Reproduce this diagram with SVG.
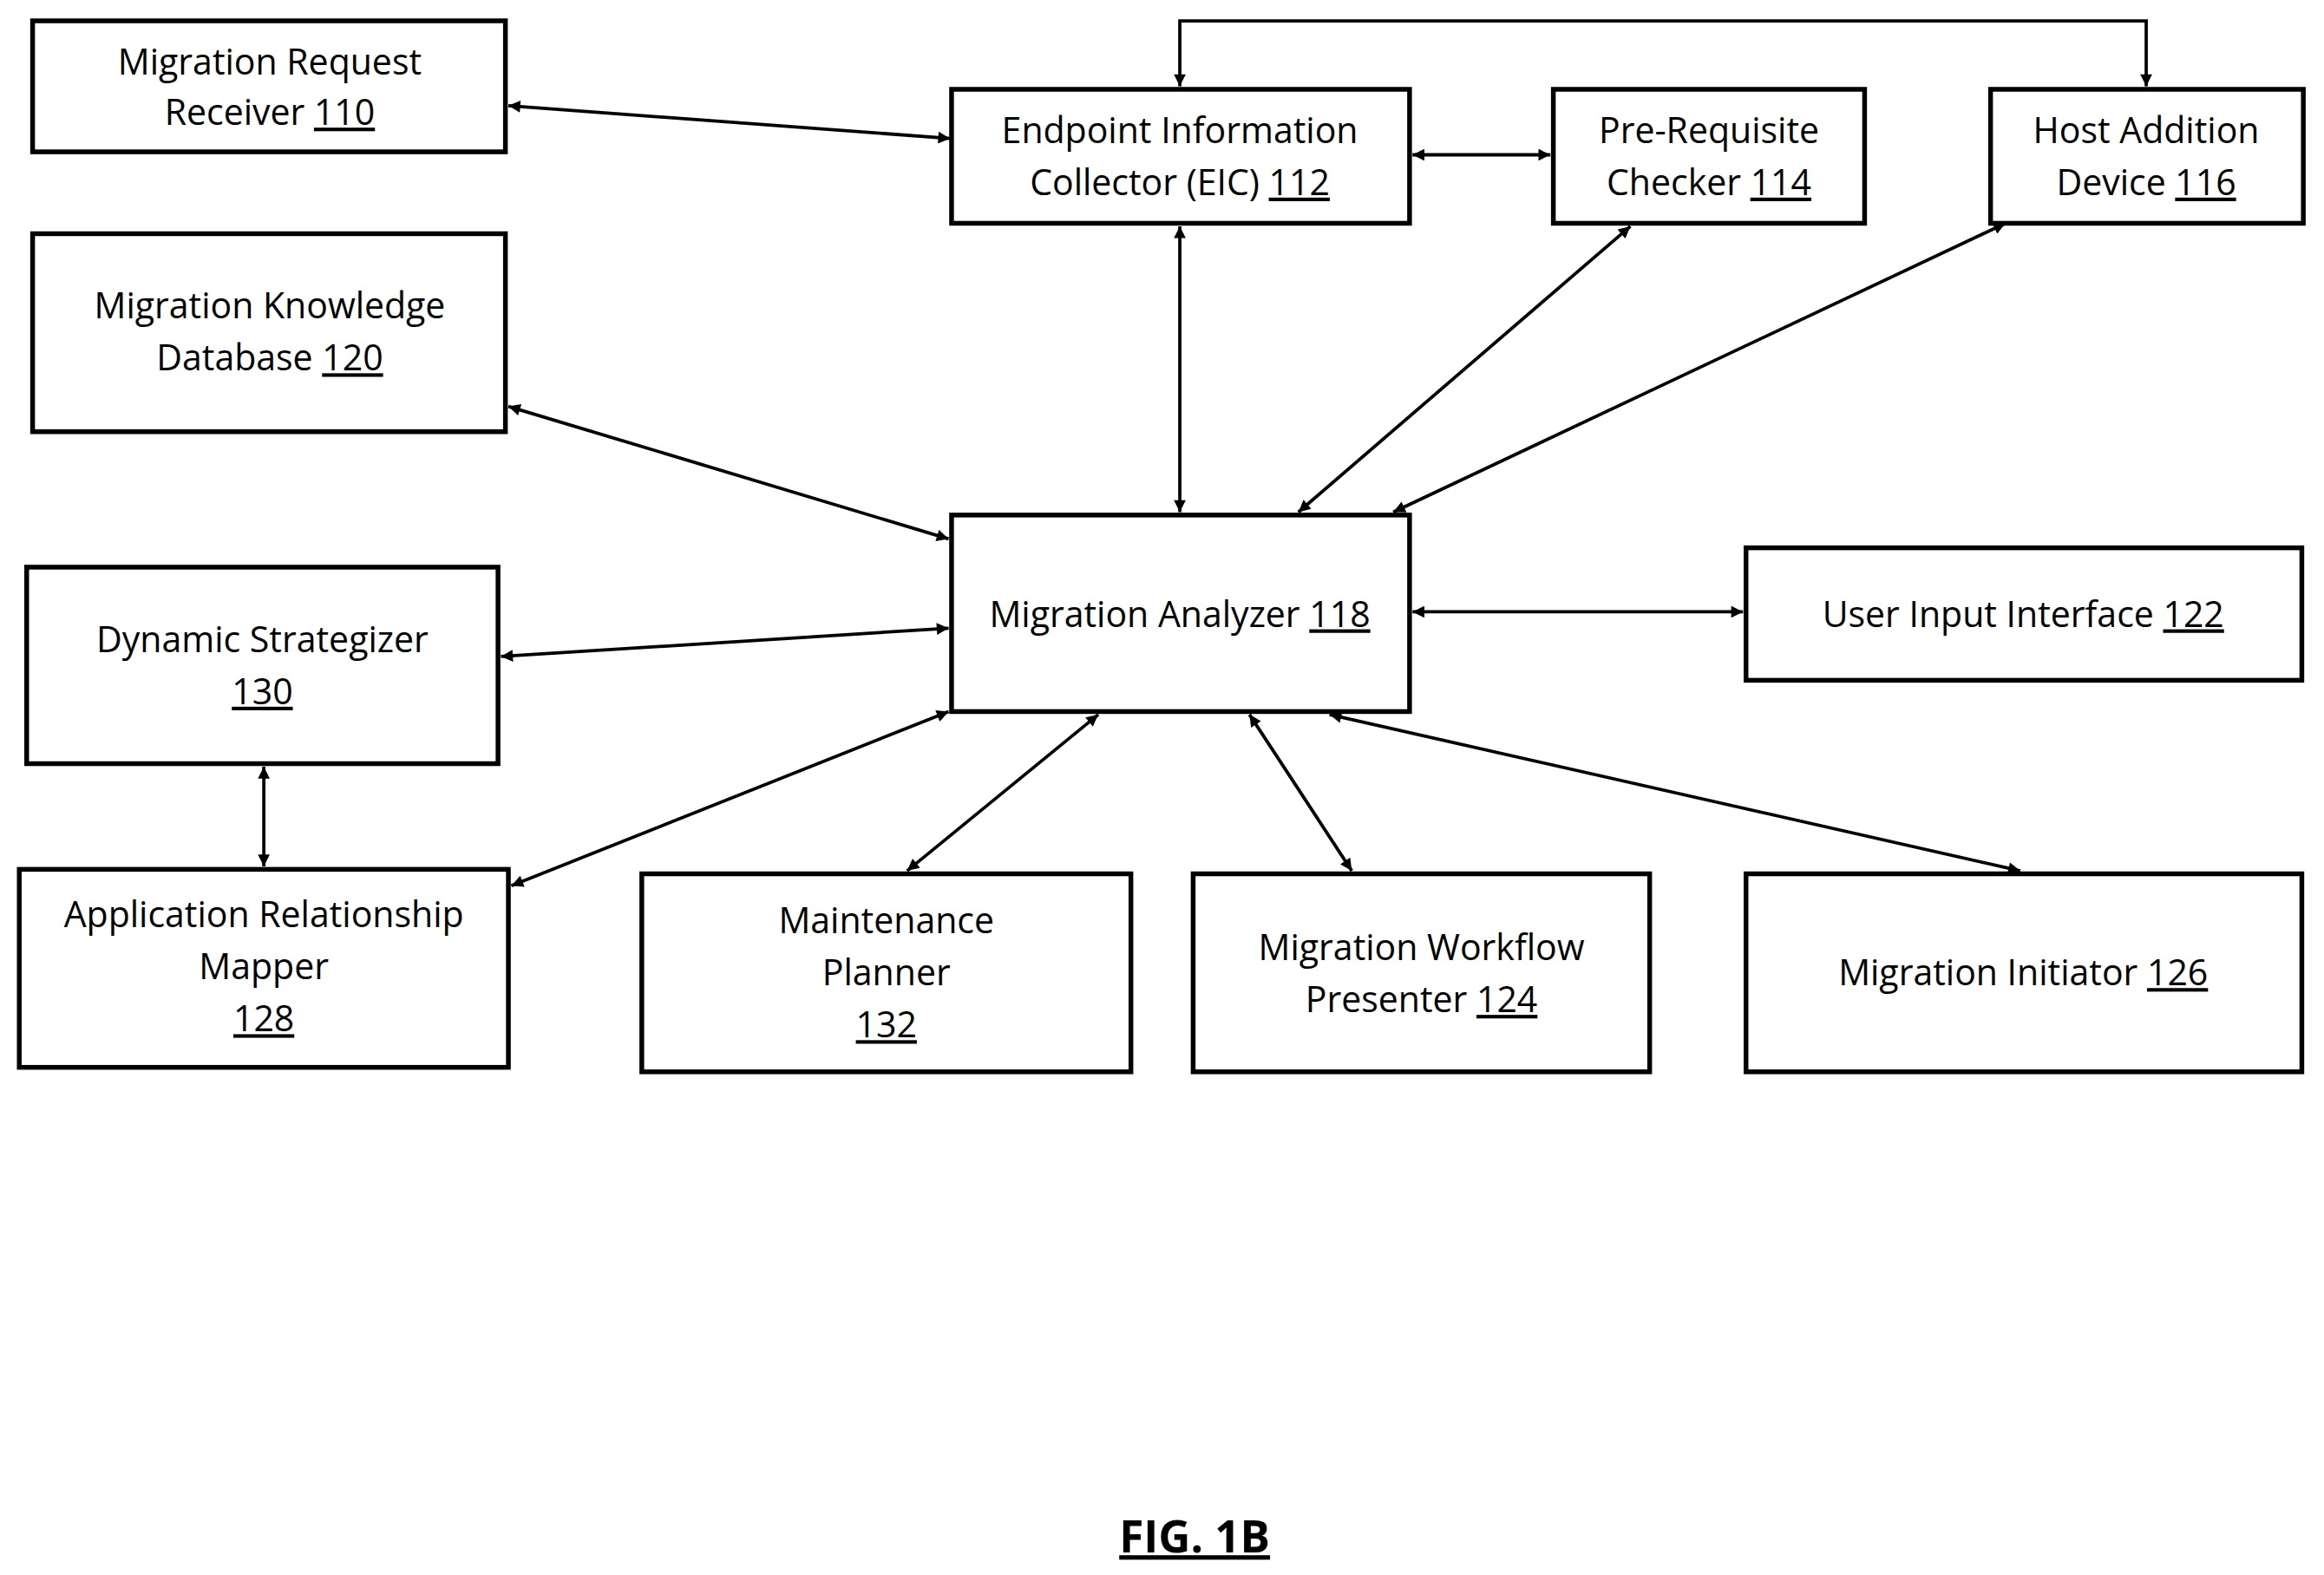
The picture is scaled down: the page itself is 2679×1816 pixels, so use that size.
<svg xmlns="http://www.w3.org/2000/svg" width="2679" height="1816" viewBox="0 0 2679 1816">
<style>
.b{fill:#fff;stroke:#000;stroke-width:3.2}
.t{font-family:"Open Sans","Liberation Sans",sans-serif;font-size:24px;fill:#000;text-anchor:middle}
.u{text-decoration:underline}
.c{fill:none;stroke:#000;stroke-width:2.2;marker-start:url(#a);marker-end:url(#a)}
</style>
<defs><marker id="a" viewBox="0 0 10 10" refX="10" refY="5" markerWidth="9" markerHeight="8" markerUnits="userSpaceOnUse" orient="auto-start-reverse"><path d="M0,0L10,5L0,10z" fill="#000"/></marker></defs>
<rect width="2679" height="1816" fill="#fff"/>
<g transform="scale(1.7086,1.7164)">
<defs><marker id="a" viewBox="0 0 10 10" refX="10" refY="5" markerWidth="12" markerHeight="10" markerUnits="userSpaceOnUse" orient="auto-start-reverse"><path d="M0,0L10,5L0,10z" fill="#000"/></marker></defs>
<g id="connectors">
<path class="c" d="M343,71L641,93"/>
<path class="c" d="M796,58V14H1448V58"/>
<path class="c" d="M953,104H1046"/>
<path class="c" d="M796,152V344"/>
<path class="c" d="M1100,152L876,344"/>
<path class="c" d="M1353,150L940,344"/>
<path class="c" d="M343,273L640,362"/>
<path class="c" d="M953,411H1176"/>
<path class="c" d="M338,441L640,422"/>
<path class="c" d="M178,515V582"/>
<path class="c" d="M345,595L640,478"/>
<path class="c" d="M612,585L741,480"/>
<path class="c" d="M912,585L843,480"/>
<path class="c" d="M1363,585L897,480"/>
</g>
<g id="n110"><rect class="b" x="22" y="14" width="319" height="88"/><text class="t" x="182" y="50">Migration Request</text><text class="t" x="182" y="84">Receiver <tspan class="u">110</tspan></text></g>
<g id="n112"><rect class="b" x="642" y="60" width="309" height="90"/><text class="t" x="796" y="96">Endpoint Information</text><text class="t" x="796" y="131">Collector (EIC) <tspan class="u">112</tspan></text></g>
<g id="n114"><rect class="b" x="1048" y="60" width="210" height="90"/><text class="t" x="1153" y="96">Pre-Requisite</text><text class="t" x="1153" y="131">Checker <tspan class="u">114</tspan></text></g>
<g id="n116"><rect class="b" x="1343" y="60" width="211" height="90"/><text class="t" x="1448" y="96">Host Addition</text><text class="t" x="1448" y="131">Device <tspan class="u">116</tspan></text></g>
<g id="n120"><rect class="b" x="22" y="157" width="319" height="133"/><text class="t" x="182" y="214">Migration Knowledge</text><text class="t" x="182" y="249">Database <tspan class="u">120</tspan></text></g>
<g id="n118"><rect class="b" x="642" y="346" width="309" height="132"/><text class="t" x="796" y="421">Migration Analyzer <tspan class="u">118</tspan></text></g>
<g id="n122"><rect class="b" x="1178" y="368" width="375" height="89"/><text class="t" x="1365" y="421">User Input Interface <tspan class="u">122</tspan></text></g>
<g id="n130"><rect class="b" x="18" y="381" width="318" height="132"/><text class="t" x="177" y="438">Dynamic Strategizer</text><text class="t" x="177" y="473"><tspan class="u">130</tspan></text></g>
<g id="n128"><rect class="b" x="13" y="584" width="330" height="133"/><text class="t" x="178" y="623">Application Relationship</text><text class="t" x="178" y="658">Mapper</text><text class="t" x="178" y="693"><tspan class="u">128</tspan></text></g>
<g id="n132"><rect class="b" x="433" y="587" width="330" height="133"/><text class="t" x="598" y="627">Maintenance</text><text class="t" x="598" y="662">Planner</text><text class="t" x="598" y="697"><tspan class="u">132</tspan></text></g>
<g id="n124"><rect class="b" x="805" y="587" width="308" height="133"/><text class="t" x="959" y="645">Migration Workflow</text><text class="t" x="959" y="680">Presenter  <tspan class="u">124</tspan></text></g>
<g id="n126"><rect class="b" x="1178" y="587" width="375" height="133"/><text class="t" x="1365" y="662">Migration Initiator  <tspan class="u">126</tspan></text></g>
<text class="t u" x="806" y="1043" style="font-weight:bold;font-size:30px">FIG. 1B</text>
</g>
</svg>
